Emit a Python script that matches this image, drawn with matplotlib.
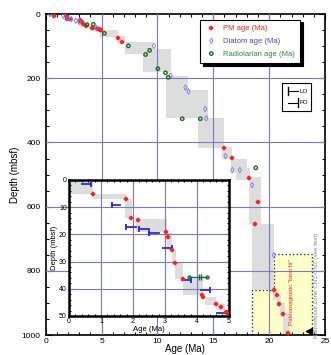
import numpy as np
import matplotlib.pyplot as plt
from matplotlib.patches import Rectangle, Polygon
from matplotlib.ticker import MultipleLocator

# paleomagnetic ages (age Ma, depth mbsf)
pm_age = [0.76, 1.78, 1.95, 2.15, 3.03, 3.10, 3.21, 3.33, 3.57, 4.15, 4.20, 4.60, 4.76, 4.90, 4.94,
          6.5, 6.85, 15.95, 16.64, 18.2, 18.96, 18.72, 20.42, 20.66, 20.9, 21.2, 21.7]
pm_depth = [5.1, 7.0, 14.0, 14.6, 19.2, 20.8, 25.8, 30.6, 36.5, 42.3, 43.1, 45.7, 46.8, 48.4, 48.8,
            73, 86, 418, 448, 511, 587, 655, 860, 875, 903, 935, 993]

# diatom ages
dia_age = [0.38, 1.57, 2.0, 2.3, 2.7, 3.0, 4.56, 9.69, 11.18, 12.5, 12.78, 14.28, 14.37,
           16.1, 16.7, 17.38, 18.48, 20.42]
dia_depth = [0, 5, 13, 16, 21, 24, 43, 99, 192, 229, 241, 296, 325,
             442, 486, 486, 533, 751]

# radiolarian ages
rad_age = [3.7, 4.26, 5.25, 7.4, 8.94, 9.3, 10.04, 10.72, 10.97, 12.22, 13.84, 18.8]
rad_depth = [33, 32, 60, 99, 126, 113, 170, 183, 197, 326, 326, 479]

# age-depth uncertainty boxes (age0, age1, depth0, depth1)
boxes = [(0, 0.76, 0, 5.2), (0.76, 1.78, 5.2, 7), (1.75, 1.96, 7, 14), (2.1, 3.05, 14.2, 19.3),
         (3.05, 3.21, 19.6, 25.7), (3.21, 3.34, 25.7, 30.6), (3.33, 3.57, 30.6, 36.4),
         (3.57, 4.18, 36.4, 42.3), (4.25, 4.6, 42.9, 46), (4.6, 4.88, 45.7, 47.8),
         (4.87, 6.5, 50, 71), (6.5, 7.1, 68, 89), (7.1, 9.6, 86, 124), (8.7, 11.25, 110, 180),
         (10.8, 12.75, 193, 325), (12.75, 14.5, 237, 325), (13.6, 15.95, 323, 418),
         (15.8, 16.7, 413, 450), (16.6, 18.0, 450, 496), (17.0, 18.3, 481, 517),
         (18.2, 19.3, 507, 654), (18.5, 20.45, 654, 860), (20.3, 20.66, 860, 890),
         (20.66, 21.1, 875, 912), (21.0, 21.4, 900, 945), (21.25, 21.8, 932, 1000)]

# inset diatom datum ranges (age0, age1, depth, kind)
dia_bars = [(0.40, 0.69, 1.5, 'FO'), (1.33, 1.60, 9.1, 'LO'), (1.78, 2.08, 17.3, 'LO'),
            (2.19, 2.49, 17.9, 'LO'), (2.50, 2.81, 19.4, 'LO'), (2.93, 3.21, 24.9, 'FO'),
            (3.54, 3.80, 36.8, 'FO'), (4.12, 4.40, 40.4, 'FO'), (4.63, 4.94, 48.8, 'FO')]
rad_bar = (3.76, 4.32, 35.7, 4.07)

# yellow nannofossil zone outline
zone_age = [18.5, 18.5, 20.45, 20.45, 23.8, 23.8]
zone_depth = [1000, 860, 860, 748, 748, 1000]

grid_c = '#7b79c2'
box_c = '#dcdddd'
red = '#ff2020'
blue_pt = '#7878ee'
green = '#1d6b2a'

plt.rcParams['font.family'] = 'Liberation Sans'
fig = plt.figure(figsize=(3.31, 3.55), dpi=100)
ax = fig.add_axes([0.138, 0.0563, 0.844, 0.904])

zone = Polygon(list(zip(zone_age, zone_depth)), closed=True, facecolor='#ffffc8',
               edgecolor='#333333', linestyle=':', lw=1.0, zorder=1)
ax.add_patch(zone)
for a0, a1, d0, d1 in boxes:
    ax.add_patch(Rectangle((a0, d0), a1 - a0, d1 - d0, facecolor=box_c, edgecolor='none', zorder=2))

for v in [5, 10, 15, 20]:
    ax.axvline(v, color=grid_c, lw=0.8, zorder=3)
for h in [200, 400, 600, 800]:
    ax.axhline(h, color=grid_c, lw=0.8, zorder=3)

ax.scatter(pm_age, pm_depth, marker='P', s=7, color=red, edgecolor=red, lw=0.3, zorder=5,
           label='PM age (Ma)')
ax.scatter(dia_age, dia_depth, marker='d', s=8, facecolor='none', edgecolor=blue_pt, lw=0.6,
           zorder=5, label='Diatom age (Ma)')
ax.scatter(rad_age, rad_depth, marker='o', s=6, facecolor='none', edgecolor=green, lw=1.0,
           zorder=5, label='Radiolarian age (Ma)')

ax.text(22.0, 865, 'Paleomagnetic "best fit"', rotation=90, color=red, fontsize=4.5,
        ha='center', va='center', zorder=6)
ax.text(24.25, 845, 'Nannofossil Zone CN1-CN2 (see text)', rotation=90, color='#888888',
        fontsize=4.5, ha='center', va='center', zorder=6)
ax.plot([23.55], [987], marker='<', color='k', ms=4, zorder=6)

ax.set_xlim(0, 25)
ax.set_ylim(1000, 0)
ax.xaxis.set_major_locator(MultipleLocator(5))
ax.xaxis.set_minor_locator(MultipleLocator(1))
ax.yaxis.set_major_locator(MultipleLocator(200))
ax.yaxis.set_minor_locator(MultipleLocator(50))
ax.tick_params(which='both', direction='in', top=True, right=True, labelsize=6, width=0.8)
ax.tick_params(which='major', length=4)
ax.tick_params(which='minor', length=2)
ax.tick_params(axis='x', pad=2)
for s in ax.spines.values():
    s.set_linewidth(1.2)
ax.set_xlabel('Age (Ma)', fontsize=7, labelpad=-0.5)
ax.set_ylabel('Depth (mbsf)', fontsize=7, labelpad=1)

leg = ax.legend(loc='upper right', bbox_to_anchor=(0.925, 0.995), fontsize=5.5, fancybox=False,
                edgecolor='k', framealpha=1, shadow={'color': 'k', 'alpha': 1},
                handletextpad=0.8, borderpad=0.7, labelspacing=0.7, handlelength=1.5)
leg.get_frame().set_linewidth(0.8)
for t, c in zip(leg.get_texts(), [red, '#4545e0', '#2f8a3a']):
    t.set_color(c)

# LO / FO key box
kx = fig.add_axes([0.851, 0.687, 0.088, 0.080])
kx.set_xlim(0, 1)
kx.set_ylim(0, 1)
kx.set_xticks([])
kx.set_yticks([])
for s in kx.spines.values():
    s.set_linewidth(0.8)
kx.plot([0.22, 0.55], [0.7, 0.7], color='k', lw=0.8)
kx.plot([0.22, 0.22], [0.55, 0.85], color='k', lw=1.0)
kx.text(0.6, 0.7, 'LO', fontsize=4.5, va='center')
kx.plot([0.22, 0.55], [0.3, 0.3], color='k', lw=0.8)
kx.plot([0.55, 0.55], [0.15, 0.45], color='k', lw=1.0)
kx.text(0.6, 0.3, 'FO', fontsize=4.5, va='center')

# inset: upper 50 m
ins = fig.add_axes([0.2085, 0.110, 0.483, 0.383])
for a0, a1, d0, d1 in boxes:
    ins.add_patch(Rectangle((a0, d0), a1 - a0, d1 - d0, facecolor=box_c, edgecolor='none', zorder=1))
for v in [1, 2, 3, 4]:
    ins.axvline(v, color=grid_c, lw=0.8, zorder=2)
for h in [10, 20, 30, 40]:
    ins.axhline(h, color=grid_c, lw=0.8, zorder=2)
for a0, a1, d, kind in dia_bars:
    ins.plot([a0, a1], [d, d], color='#2a2ae0', lw=1.3, zorder=3)
    cap = a0 if kind == 'LO' else a1
    ins.plot([cap], [d], marker='|', color='#2a2ae0', ms=4, mew=1.3, zorder=3)
ins.plot([rad_bar[0], rad_bar[1]], [rad_bar[2], rad_bar[2]], color=green, lw=1.0, zorder=3)
ins.plot([rad_bar[0], rad_bar[1]], [rad_bar[2], rad_bar[2]], 'o', color=green, ms=2.2,
         mfc='none', mew=0.9, zorder=4)
ins.plot([rad_bar[3], rad_bar[3] + 0.05], [rad_bar[2], rad_bar[2]], '|', color=green, ms=4,
         mew=1.0, zorder=4)
ins.scatter(pm_age, pm_depth, marker='P', s=7, color=red, edgecolor=red, lw=0.3, zorder=5)
ins.set_xlim(0, 5)
ins.set_ylim(50, 0)
ins.xaxis.set_major_locator(MultipleLocator(1))
ins.xaxis.set_minor_locator(MultipleLocator(0.2))
ins.yaxis.set_major_locator(MultipleLocator(10))
ins.yaxis.set_minor_locator(MultipleLocator(2))
ins.tick_params(which='both', direction='in', top=True, right=True, labelsize=5, width=0.8, pad=1.5)
ins.tick_params(which='major', length=3)
ins.tick_params(which='minor', length=1.5)
for s in ins.spines.values():
    s.set_linewidth(1.8)
ins.set_xlabel('Age (Ma)', fontsize=5.5, labelpad=1)
ins.set_ylabel('Depth (mbsf)', fontsize=5.5, labelpad=1)

fig.savefig('out.png', dpi=100)
